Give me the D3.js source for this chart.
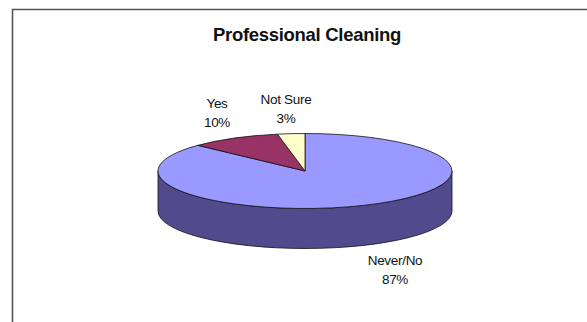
<!DOCTYPE html>
<html>
<head>
<meta charset="utf-8">
<script src="https://cdn.jsdelivr.net/npm/d3@7"></script>
<style>
  html, body { margin: 0; padding: 0; background: #fff; }
  svg { display: block; }
  text { font-family: "Liberation Sans", Arial, sans-serif; fill: #111; }
</style>
</head>
<body>
<svg id="chart" width="587" height="322"></svg>
<script>
// Survey answers for professional cleaning
const categories = ["Never/No", "Yes", "Not Sure"];
const values = [87, 10, 3];
const labels = ["87%", "10%", "3%"];
const colors = ["#9999FF", "#993366", "#FFFFCC"];
const sideColors = ["#514B8E", "#5a1f3c", "#99997a"];

const svg = d3.select("#chart");

// chart frame
svg.append("path")
  .attr("d", "M12.5,322 V9.5 H587")
  .attr("fill", "none")
  .attr("stroke", "#555")
  .attr("stroke-width", 1.6);

svg.append("text")
  .attr("x", 307).attr("y", 41)
  .attr("text-anchor", "middle")
  .attr("font-size", 18.5)
  .attr("font-weight", "bold")
  .attr("letter-spacing", -0.3)
  .text("Professional Cleaning");

// 3D pie geometry
const cx = 305, cy = 171, rx = 147, ry = 37.5, depth = 40;
const pt = (a, dy = 0) => [cx + rx * Math.sin(a), cy - ry * Math.cos(a) + dy];

const pie = d3.pie().sort(null).value(d => d)
  .startAngle(0).endAngle(2 * Math.PI);
const arcs = pie(values);

const g = svg.append("g");

// visible side wall: front half of the ellipse (from 90deg to 270deg)
arcs.forEach((d, i) => {
  const a0 = Math.max(d.startAngle, Math.PI / 2);
  const a1 = Math.min(d.endAngle, 3 * Math.PI / 2);
  if (a1 <= a0) return;
  const s = pt(a0), e = pt(a1);
  const sb = pt(a0, depth), eb = pt(a1, depth);
  const path = `M${s[0]},${s[1]} A${rx},${ry} 0 0 1 ${e[0]},${e[1]}` +
    ` L${eb[0]},${eb[1]} A${rx},${ry} 0 0 0 ${sb[0]},${sb[1]} Z`;
  g.append("path")
    .attr("d", path)
    .attr("fill", sideColors[i])
    .attr("stroke", "#111")
    .attr("stroke-width", 0.8)
    .attr("stroke-linejoin", "round");
});

// top face slices
arcs.forEach((d, i) => {
  const s = pt(d.startAngle), e = pt(d.endAngle);
  const large = (d.endAngle - d.startAngle) > Math.PI ? 1 : 0;
  g.append("path")
    .attr("d", `M${cx},${cy} L${s[0]},${s[1]} A${rx},${ry} 0 ${large} 1 ${e[0]},${e[1]} Z`)
    .attr("fill", colors[i])
    .attr("stroke", "#111")
    .attr("stroke-width", 0.8)
    .attr("stroke-linejoin", "round");
});

// data labels
const labelPos = [[395, 265], [217, 108], [286, 104]];
arcs.forEach((d, i) => {
  const t = svg.append("text")
    .attr("x", labelPos[i][0]).attr("y", labelPos[i][1])
    .attr("text-anchor", "middle")
    .attr("font-size", 13.5)
    .attr("letter-spacing", -0.3);
  t.append("tspan").attr("x", labelPos[i][0]).text(categories[i]);
  t.append("tspan").attr("x", labelPos[i][0]).attr("dy", 18.5).text(labels[i]);
});
</script>
</body>
</html>
